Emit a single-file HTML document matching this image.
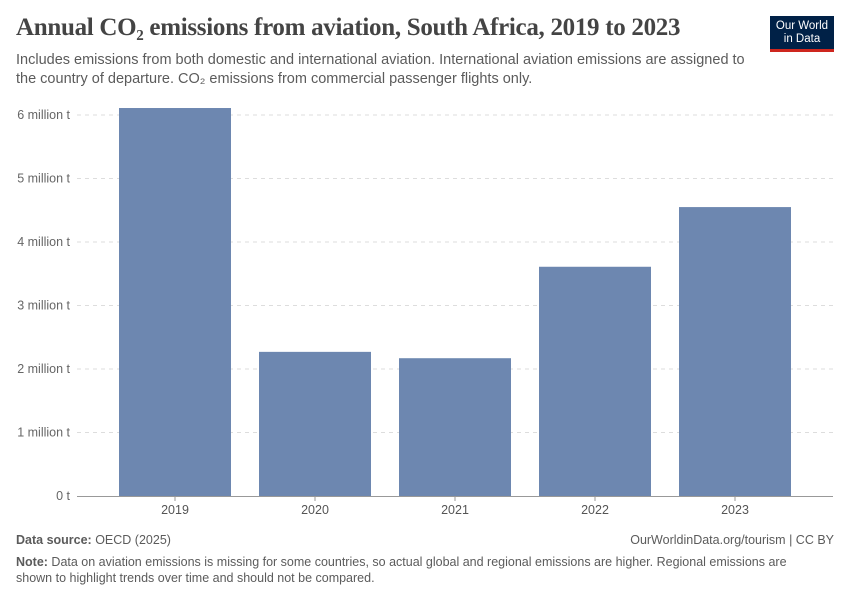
<!DOCTYPE html>
<html><head><meta charset="utf-8"><style>
body{margin:0;background:#fff;font-family:"Liberation Sans",sans-serif;}
#wrap{position:relative;width:850px;height:600px;overflow:hidden;}
.title{position:absolute;left:16px;top:14px;font-family:"Liberation Serif",serif;font-size:25px;font-weight:bold;color:#444;letter-spacing:-0.3px;}
.sub{position:absolute;left:16px;top:51px;font-size:14.5px;color:#5b5b5b;line-height:19px;width:735px;}
.logo{position:absolute;left:770px;top:16px;width:64px;height:36px;background:#002147;color:#fff;font-size:11.5px;text-align:center;line-height:13px;padding-top:4px;box-sizing:border-box;border-bottom:3px solid #ce261e;}
.foot{position:absolute;font-size:12.5px;color:#5b5b5b;}
</style></head><body>
<div id="wrap">
<div class="title">Annual CO₂ emissions from aviation, South Africa, 2019 to 2023</div>
<div class="sub">Includes emissions from both domestic and international aviation. International aviation emissions are assigned to the country of departure. CO₂ emissions from commercial passenger flights only.</div>
<div class="logo">Our World<br>in Data</div>
<svg id="chart" width="850" height="600" style="position:absolute;left:0;top:0"></svg>
<div class="foot" style="left:16px;top:533px"><b>Data source:</b> OECD (2025)</div>
<div class="foot" style="right:16px;top:533px">OurWorldinData.org/tourism | CC BY</div>
<div class="foot" style="left:16px;top:554px;width:800px;line-height:16px"><b>Note:</b> Data on aviation emissions is missing for some countries, so actual global and regional emissions are higher. Regional emissions are shown to highlight trends over time and should not be compared.</div>
</div>
<script>
const categories=["2019","2020","2021","2022","2023"];
const values=[6.11,2.27,2.17,3.61,4.55];
const tickValues=[0,1,2,3,4,5,6];
const tickLabels=["0 t","1 million t","2 million t","3 million t","4 million t","5 million t","6 million t"];
const NS="http://www.w3.org/2000/svg";
const svg=document.getElementById('chart');
const x0=77,x1=833,y0=496,pxPer=63.5;
const y=v=>y0-v*pxPer;
const xb=i=>x0+14+i*140;
function mk(t,a){const e=document.createElementNS(NS,t);for(const k in a)e.setAttribute(k,a[k]);svg.appendChild(e);return e;}
tickValues.forEach((v,i)=>{
 if(v>0){const l=mk('line',{x1:x0,x2:x1,y1:y(v),y2:y(v),stroke:'#ddd','stroke-dasharray':'4,4'});
 
 }
 const t=mk('text',{x:70,y:y(v)+4,'text-anchor':'end','font-size':12.5,fill:'#666','font-family':'Liberation Sans'});
 t.textContent=tickLabels[i];
 
 
});
values.forEach((v,i)=>{
 const r=mk('rect',{x:xb(i)+28,y:y(v),width:112,height:v*pxPer,fill:'#6d87b0'});
 
 
 const t=mk('text',{x:xb(i)+84,y:514,'text-anchor':'middle','font-size':12.5,fill:'#555','font-family':'Liberation Sans'});
 t.textContent=categories[i];
 
 
 const tk=mk('line',{x1:xb(i)+84,x2:xb(i)+84,y1:y0,y2:y0+5,stroke:'#999'});
 
 
});
const ax=mk('line',{x1:x0,x2:x1,y1:y0+0.5,y2:y0+0.5,stroke:'#999'});


</script>
</body></html>
